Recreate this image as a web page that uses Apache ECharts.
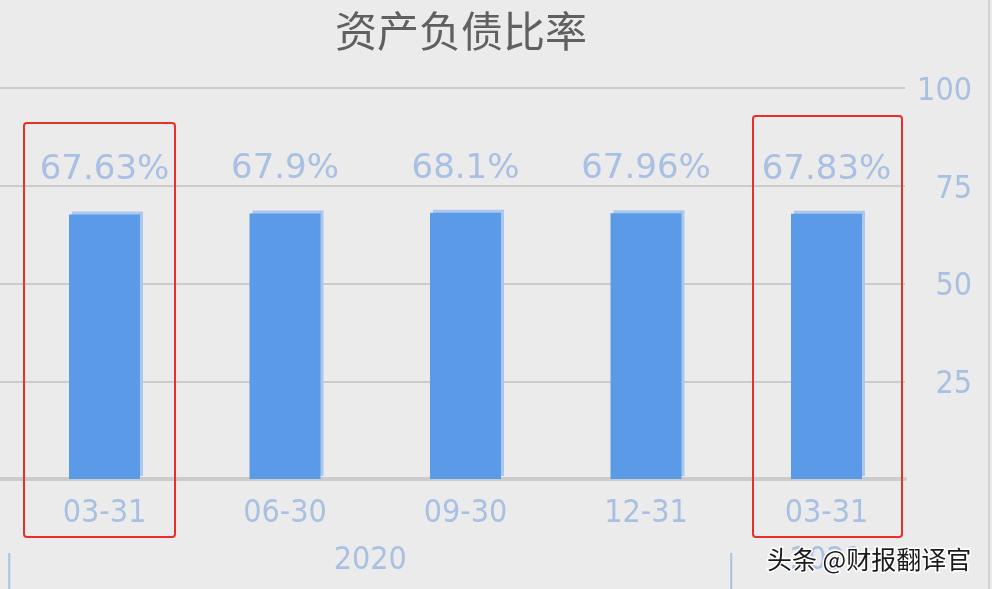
<!DOCTYPE html>
<html>
<head>
<meta charset="utf-8">
<script src="https://cdn.jsdelivr.net/npm/echarts@6/dist/echarts.min.js"></script>
<style>
html,body{margin:0;padding:0;background:#ebebeb;}
#chart{width:992px;height:589px;}
</style>
</head>
<body>
<div id="chart"></div>
<script>
var titleText = '资产负债比率';
var categories = ['03-31', '06-30', '09-30', '12-31', '03-31'];
var values = [67.63, 67.9, 68.1, 67.96, 67.83];
var valueLabels = ['67.63%', '67.9%', '68.1%', '67.96%', '67.83%'];
var yearGroups = [
  { year: '2020', from: 0, to: 3 },
  { year: '2021', from: 4, to: 4 }
];
var watermark = '头条 @财报翻译官';

var labelBlue = '#a9c0e2';
var gridGray = '#cbcbcb';
var numFont = '"DejaVu Sans Condensed", "Liberation Sans Narrow", sans-serif';

var chart = echarts.init(document.getElementById('chart'));
var option = {
  backgroundColor: '#ebebeb',
  animation: false,
  title: {
    text: titleText,
    left: 456,
    top: 5,
    textAlign: 'center',
    textStyle: { fontFamily: '"Noto Sans CJK SC", sans-serif', fontSize: 42, fontWeight: 'normal', color: '#606060' }
  },
  grid: [
    { left: 14.25, right: 75.25, top: 88, bottom: 110 },
    { left: 0, right: 87, top: 88, bottom: 110 }
  ],
  xAxis: [
    {
      type: 'category', gridIndex: 0, data: categories,
      axisLine: { show: false }, axisTick: { show: false },
      axisLabel: { color: labelBlue, fontFamily: numFont, fontSize: 32, margin: 19 }
    },
    {
      type: 'value', gridIndex: 1, min: 0, max: 1,
      axisLine: { show: true, lineStyle: { color: gridGray, width: 4 } },
      axisTick: { show: false }, axisLabel: { show: false }, splitLine: { show: false }
    }
  ],
  yAxis: [
    {
      type: 'value', gridIndex: 0, min: 0, max: 100, interval: 25,
      show: false
    },
    {
      type: 'value', gridIndex: 1, min: 0, max: 100, interval: 25, position: 'right',
      axisLine: { show: false }, axisTick: { show: false },
      axisLabel: { margin: 67, align: 'right',
        formatter: function (v) { return v === 0 ? '' : '{t|' + v + '}'; },
        rich: { t: { color: labelBlue, fontFamily: numFont, fontSize: 32, padding: [7, 0, 0, 0] } } },
      splitLine: { lineStyle: { color: gridGray, width: 2 } }
    }
  ],
  series: [
    {
      type: 'bar', xAxisIndex: 0, yAxisIndex: 0,
      data: values,
      barWidth: 71,
      itemStyle: {
        color: '#5b9ae7',
        shadowColor: '#abc7ee', shadowBlur: 0, shadowOffsetX: 3, shadowOffsetY: -3
      },
      label: {
        show: true, position: 'top', distance: 27,
        color: labelBlue, fontFamily: '"DejaVu Sans", sans-serif', fontSize: 34,
        formatter: function (p) { return valueLabels[p.dataIndex]; }
      }
    }
  ]
};
chart.setOption(option);

// derive group separators and year labels from the category scale
var c0 = chart.convertToPixel({ xAxisIndex: 0 }, 0);
var c1 = chart.convertToPixel({ xAxisIndex: 0 }, 1);
var half = (c1 - c0) / 2;
var graphics = [];
yearGroups.forEach(function (g) {
  var xs = chart.convertToPixel({ xAxisIndex: 0 }, g.from) - half - 5;
  var xe = chart.convertToPixel({ xAxisIndex: 0 }, g.to) + half - 5;
  graphics.push({ type: 'line', shape: { x1: xs, y1: 553, x2: xs, y2: 589 }, style: { stroke: labelBlue, lineWidth: 2 } });
  var cx = g.from === g.to ? chart.convertToPixel({ xAxisIndex: 0 }, g.from) : (xs + xe) / 2;
  graphics.push({ type: 'text', x: cx, y: 561, style: { text: g.year, fill: labelBlue, font: '32px ' + numFont, textAlign: 'center', textVerticalAlign: 'middle' } });
});
// right border
graphics.push({ type: 'line', shape: { x1: 989, y1: 0, x2: 989, y2: 589 }, style: { stroke: '#d2d2d2', lineWidth: 2 } });
// red annotation boxes
graphics.push({ type: 'rect', shape: { x: 24, y: 123, width: 151, height: 414, r: 3 }, style: { fill: 'none', stroke: '#e8302a', lineWidth: 2 }, z: 100 });
graphics.push({ type: 'rect', shape: { x: 753, y: 116, width: 149, height: 421, r: 3 }, style: { fill: 'none', stroke: '#e8302a', lineWidth: 2 }, z: 100 });
// watermark
graphics.push({ type: 'text', x: 767, y: 559, z: 101, style: { text: watermark, fill: '#1a1a1a', font: '25px "Noto Sans CJK SC", sans-serif', textVerticalAlign: 'middle', stroke: '#ffffff', lineWidth: 3 } });
chart.setOption({ graphic: graphics });
</script>
</body>
</html>
